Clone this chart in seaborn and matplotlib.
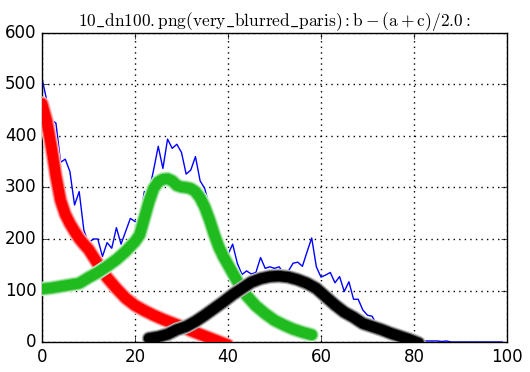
import matplotlib
matplotlib.use("Agg")
import matplotlib.pyplot as plt
import matplotlib.colors as mcolors
import seaborn as sns
import numpy as np

plt.style.use("classic")
plt.rcParams["mathtext.fontset"] = "cm"

# blue histogram-like line (x = 0..99)
blue_y = [512, 470, 432, 425, 349, 355, 331, 266, 292, 217,
          192, 200, 200, 166, 193, 182, 222, 190, 215, 240,
          234, 233, 292, 292, 334, 380, 337, 394, 376, 384,
          368, 326, 334, 360, 313, 298, 263, 237, 205, 182,
          170, 190, 153, 131, 138, 132, 135, 164, 143, 146,
          143, 146, 133, 138, 153, 155, 147, 175, 202, 146,
          126, 130, 135, 115, 127, 98, 117, 83, 83, 62,
          52, 50, 33, 30, 30, 23, 20, 15, 10, 6,
          4, 3, 2, 2, 2, 2, 1, 2, 0, 0,
          0, 0, 0, 0, 0, 0, 0, 0, 0, 0]
blue_x = list(range(len(blue_y)))

red_x = [0, 1, 2, 3, 4, 5, 6, 7, 8, 9, 10, 12, 14, 16, 18, 20, 22, 24, 26, 28, 30, 32, 34, 36, 38, 40]
red_y = [463, 430, 380, 322, 275, 248, 230, 215, 201, 190, 180, 152, 125, 104, 85, 71, 61, 52, 44, 37, 30, 22, 15, 8, 1, -6]

green_x = [0, 2, 4, 6, 8, 10, 12, 14, 16, 18, 20, 21, 22, 23, 24, 25, 26, 27, 28, 29, 30, 31, 32, 33, 34,
           35, 36, 37, 38, 39, 40, 42, 44, 46, 48, 50, 52, 54, 56, 58]
green_y = [103, 105, 108, 111, 114, 125, 135, 147, 160, 176, 195, 208, 240, 272, 298, 311, 316, 317, 313,
           304, 301, 300, 298, 292, 280, 262, 238, 210, 185, 166, 150, 118, 90, 70, 55, 42, 33, 25, 19, 14]

black_x = [23, 25, 27, 29, 31, 33, 35, 37, 39, 41, 43, 45, 47, 49, 51, 53, 55, 57, 59, 61, 63, 65, 67, 69,
           71, 73, 75, 77, 79, 81]
black_y = [7, 10, 15, 24, 30, 40, 52, 65, 78, 92, 104, 116, 123, 127, 128, 126, 121, 114, 104, 88, 72, 58,
           48, 36, 30, 24, 17, 11, 5, -2]


def mix(col, f):
    c = np.array(mcolors.to_rgb(col))
    return tuple(1 - f * (1 - c))


fig = plt.figure(figsize=(5.3, 3.72), dpi=100, facecolor="white")
ax = fig.add_axes([42 / 530, 1 - 342 / 372, 465 / 530, 309 / 372])
ax.set_facecolor("white")

sns.lineplot(x=blue_x, y=blue_y, color="#0000ff", lw=1, sort=False, ax=ax, zorder=2)

for xs, ys, col in [(red_x, red_y, "#ff0000"), (green_x, green_y, "#1fbb1f"), (black_x, black_y, "#000000")]:
    for lw, f in [(10.5, 0.25), (9, 0.6), (7.5, 1.0)]:
        sns.lineplot(x=xs, y=ys, color=mix(col, f), lw=lw, sort=False, ax=ax,
                     solid_capstyle="round", solid_joinstyle="round", zorder=3)

ax.set_xlim(0, 100)
ax.set_ylim(0, 600)
ax.set_xticks([0, 20, 40, 60, 80, 100])
ax.set_yticks([0, 100, 200, 300, 400, 500, 600])
ax.grid(True, linestyle=":", color="k", linewidth=1)
ax.set_axisbelow(True)
ax.set_xlabel("")
ax.set_ylabel("")
ax.set_title(r"$\mathrm{10\_dn100.png(very\_blurred\_paris):b-(a+c)/2.0:}$", fontsize=12.5)

fig.savefig("out.png", dpi=100, facecolor="white")
